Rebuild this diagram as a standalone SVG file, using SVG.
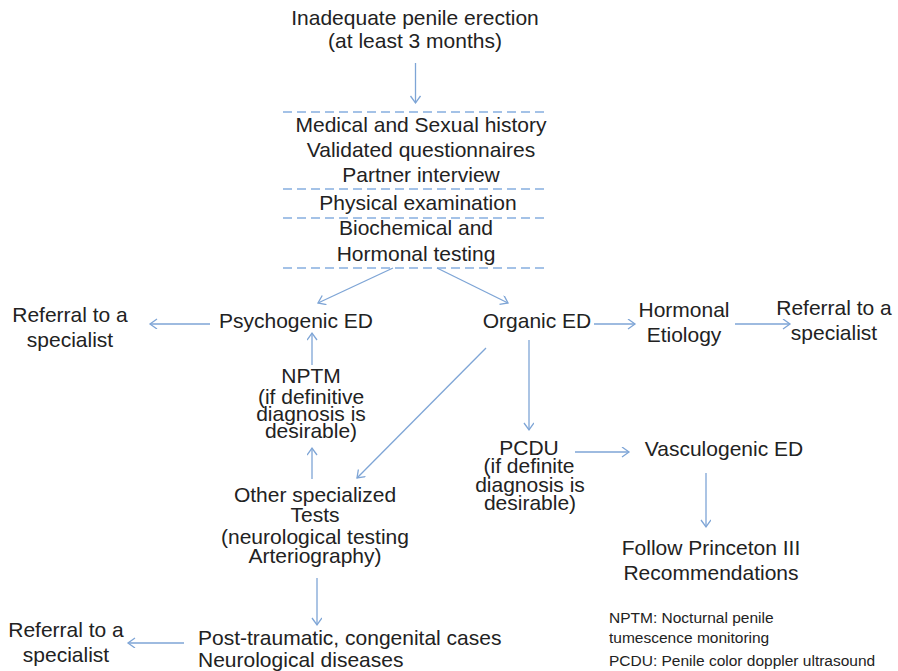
<svg xmlns="http://www.w3.org/2000/svg" width="898" height="671" viewBox="0 0 898 671">
<style>
text{font-family:"Liberation Sans",Arial,sans-serif;font-size:21px;fill:#222;text-anchor:middle}
.l{text-anchor:start}
.s{font-size:15.5px;text-anchor:start}
.c{stroke:#7ea5d6;stroke-width:1.3;fill:none}
.d{stroke:#86aee0;stroke-width:1.3;stroke-dasharray:9 5;fill:none}
</style>
<defs>
<marker id="a" markerUnits="userSpaceOnUse" markerWidth="12" markerHeight="12" refX="8" refY="5" orient="auto">
<path d="M1,0 L8,5 L1,10" stroke="#7ea5d6" stroke-width="1.3" fill="none"/>
</marker>
</defs>
<rect width="898" height="671" fill="#fff"/>
<g id="n-start"><text x="415" y="25">Inadequate penile erection</text><text x="415" y="48">(at least 3 months)</text></g>
<g id="n-eval">
<text x="421" y="132">Medical and Sexual history</text>
<text x="421" y="157">Validated questionnaires</text>
<text x="421" y="182">Partner interview</text>
<text x="418" y="210">Physical examination</text>
<text x="416" y="235">Biochemical and</text>
<text x="416" y="261">Hormonal testing</text>
</g>
<g id="n-psy"><text x="296" y="328">Psychogenic ED</text></g>
<g id="n-ref1"><text x="70" y="322">Referral to a</text><text x="70" y="347">specialist</text></g>
<g id="n-org"><text x="537" y="328">Organic ED</text></g>
<g id="n-horm"><text x="684" y="317">Hormonal</text><text x="684" y="342">Etiology</text></g>
<g id="n-ref2"><text x="834" y="315">Referral to a</text><text x="834" y="340">specialist</text></g>
<g id="n-nptm"><text x="311" y="383">NPTM</text><text x="311" y="404">(if definitive</text><text x="311" y="421">diagnosis is</text><text x="311" y="438">desirable)</text></g>
<g id="n-pcdu"><text x="529" y="455">PCDU</text><text x="529" y="473">(if definite</text><text x="530" y="492">diagnosis is</text><text x="530" y="510">desirable)</text></g>
<g id="n-vasc"><text x="724" y="456">Vasculogenic ED</text></g>
<g id="n-other"><text x="315" y="502">Other specialized</text><text x="315" y="522">Tests</text><text x="315" y="544">(neurological testing</text><text x="315" y="563">Arteriography)</text></g>
<g id="n-follow"><text x="711" y="555">Follow Princeton III</text><text x="711" y="580">Recommendations</text></g>
<g id="n-post"><text class="l" x="198" y="645">Post-traumatic, congenital cases</text><text class="l" x="198" y="667">Neurological diseases</text></g>
<g id="n-ref3"><text x="66" y="637">Referral to a</text><text x="66" y="662">specialist</text></g>
<g id="legend"><text class="s" x="609" y="623">NPTM: Nocturnal penile</text><text class="s" x="609" y="643">tumescence monitoring</text><text class="s" x="609" y="666">PCDU: Penile color doppler ultrasound</text></g>
<g id="dividers">
<line class="d" x1="283" y1="112" x2="546" y2="112"/>
<line class="d" x1="283" y1="189" x2="546" y2="189"/>
<line class="d" x1="283" y1="218" x2="546" y2="218"/>
<line class="d" x1="283" y1="268" x2="546" y2="268"/>
</g>
<g id="connectors">
<line class="c" x1="415.5" y1="63" x2="415.5" y2="103" marker-end="url(#a)"/>
<line class="c" x1="393" y1="268" x2="318" y2="303" marker-end="url(#a)"/>
<line class="c" x1="437" y1="268" x2="508" y2="303" marker-end="url(#a)"/>
<line class="c" x1="210" y1="324" x2="150" y2="324" marker-end="url(#a)"/>
<line class="c" x1="594" y1="324" x2="635" y2="324" marker-end="url(#a)"/>
<line class="c" x1="735" y1="324" x2="790" y2="324" marker-end="url(#a)"/>
<line class="c" x1="312" y1="365" x2="312" y2="333" marker-end="url(#a)"/>
<line class="c" x1="312" y1="479" x2="312" y2="448" marker-end="url(#a)"/>
<line class="c" x1="486" y1="348" x2="357" y2="478" marker-end="url(#a)"/>
<line class="c" x1="529" y1="340" x2="529" y2="430" marker-end="url(#a)"/>
<line class="c" x1="575" y1="452" x2="629" y2="452" marker-end="url(#a)"/>
<line class="c" x1="706" y1="473" x2="706" y2="527" marker-end="url(#a)"/>
<line class="c" x1="317" y1="578" x2="317" y2="625" marker-end="url(#a)"/>
<line class="c" x1="184" y1="643" x2="128" y2="643" marker-end="url(#a)"/>
</g>
</svg>
